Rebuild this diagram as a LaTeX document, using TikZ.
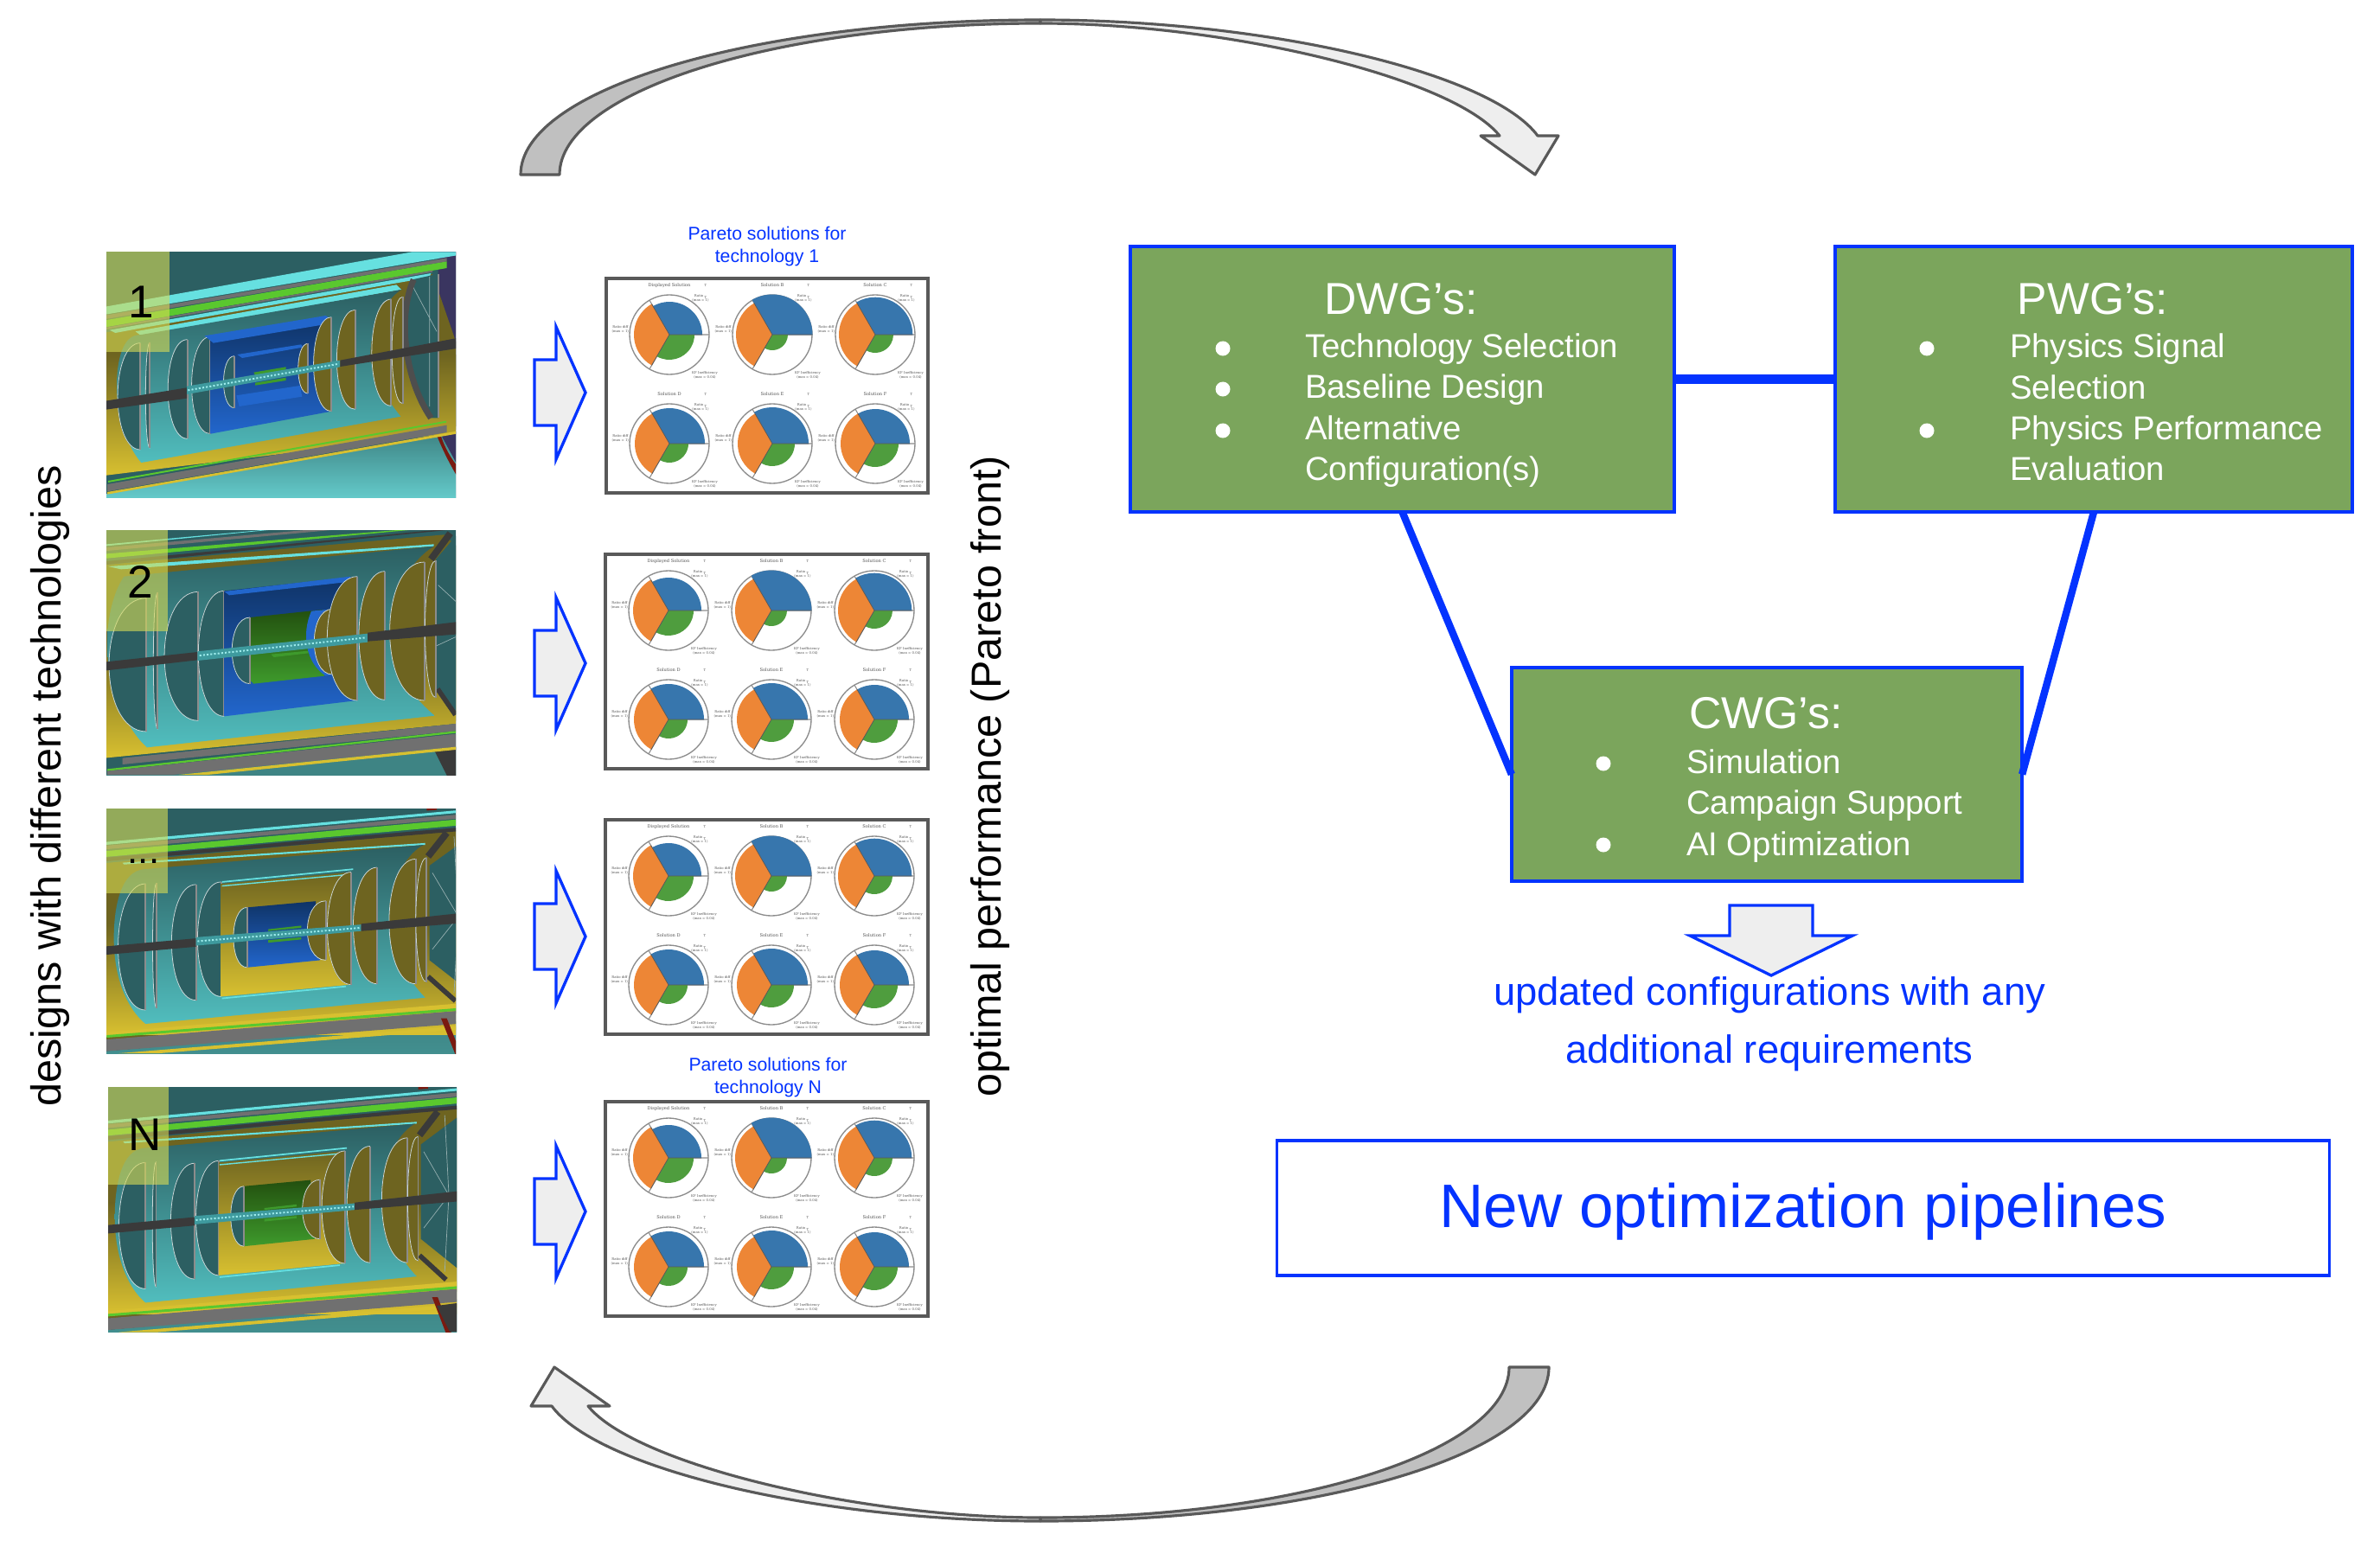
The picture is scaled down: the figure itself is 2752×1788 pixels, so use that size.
\documentclass[tikz,border=0pt]{standalone}
\usepackage{fontspec}
\setmainfont{Liberation Sans}
\newfontfamily\tinyserif{DejaVu Serif}
\usetikzlibrary{calc}
\definecolor{bluex}{HTML}{0433FF}
\definecolor{greenbox}{HTML}{7BA55C}
\definecolor{darkline}{HTML}{595959}
\definecolor{lightfill}{HTML}{EEEEEE}
\definecolor{midfill}{HTML}{C0C0C0}
\definecolor{tealbg}{HTML}{2C5F62}
\definecolor{teallite}{HTML}{55C8C8}
\definecolor{tealmid}{HTML}{3E8484}
\definecolor{olive}{HTML}{6E6420}
\definecolor{yelbr}{HTML}{D8C030}
\definecolor{grayx}{HTML}{707070}
\definecolor{greenx}{HTML}{5AC82E}
\definecolor{cyanx}{HTML}{66E0E0}
\definecolor{navyb}{HTML}{0F3366}
\definecolor{blueb}{HTML}{2266CC}
\definecolor{darkg}{HTML}{23500F}
\definecolor{litg}{HTML}{3E9A2C}
\definecolor{pipe}{HTML}{3A3A3A}
\definecolor{pipec}{HTML}{3E9A9E}
\definecolor{navyr}{HTML}{3A3560}
\definecolor{redx}{HTML}{7A1A10}
\definecolor{cblue}{HTML}{3776AD}
\definecolor{corange}{HTML}{ED8636}
\definecolor{cgreen}{HTML}{4F9D3E}
\definecolor{overl}{HTML}{D8DC55}
\tikzset{
  gbox/.style={draw=bluex,fill=greenbox,line width=1pt,inner sep=0pt,outer sep=0pt},
  wbox/.style={draw=bluex,fill=white,line width=1pt,inner sep=0pt,outer sep=0pt},
  link/.style={bluex,line width=2.4pt},
  linkh/.style={bluex,line width=2.85pt},
  blockar/.style={draw=bluex,fill=lightfill,line width=.95pt,line join=miter},
  curvedk/.style={draw=darkline,fill=midfill,line width=.9pt,line join=round},
  curvelt/.style={draw=darkline,fill=lightfill,line width=.9pt,line join=round},
  whitetxt/.style={text=white,inner sep=0pt,outer sep=0pt,align=left},
  whitehead/.style={text=white,inner sep=0pt,outer sep=0pt,font=\fontsize{14.7}{17}\selectfont},
  bluetxt/.style={text=bluex,inner sep=0pt,outer sep=0pt,align=center},
  blacktxt/.style={text=black,inner sep=0pt,outer sep=0pt},
  num/.style={text=black,inner sep=0pt,outer sep=0pt,font=\fontsize{15.1}{17}\selectfont,anchor=base},
  dot/.style={fill=white},
  frm/.style={draw=darkline,fill=white,line width=.9pt},
  mini/.style={text=black!68,inner sep=0pt,outer sep=0pt,align=center,font=\tinyserif\fontsize{1.1}{1.35}\selectfont},
  minit/.style={text=black!68,inner sep=0pt,outer sep=0pt,font=\tinyserif\fontsize{1.45}{1.8}\selectfont},
  discline/.style={draw=white!75!tealbg,line width=.22pt},
  discedge/.style={draw=white!55!black,line width=.5pt},
}
% a very small stacked fraction for the chart labels
\newcommand\minifrac{\raisebox{-.4pt}{\fontsize{1.1}{.85}\selectfont\shortstack{T\\T}}}
% half disc: x, top, bottom, bulge, fill
\newcommand\discD[5]{%
  \fill[#5] (#1,#2) .. controls (#1-#4,#2) and (#1-#4,#3) .. (#1,#3) -- cycle;
  \draw[discline] (#1,#2) .. controls (#1-#4,#2) and (#1-#4,#3) .. (#1,#3);
  \draw[discedge] (#1,#2) -- (#1,#3);
}
% polar chart: prefix, x, y, title, r blue, r orange, r green
\newcommand\polarC[7]{%
  \begin{scope}[shift={(#2,#3)},x=0.01cm,y=0.01cm]
    \draw[black!45,line width=.38pt] (0,0) circle[radius=46*0.01cm];
    \draw[black!45,line width=.3pt] (0,0) -- (46,0) (0,0) -- (120:46*0.01cm) (0,0) -- (240:46*0.01cm);
    \fill[cblue] (0,0) -- (#5*0.01cm,0) arc[start angle=0,end angle=120,radius=#5*0.01cm] -- cycle;
    \fill[corange] (0,0) -- (120:#6*0.01cm) arc[start angle=120,end angle=240,radius=#6*0.01cm] -- cycle;
    \fill[cgreen] (0,0) -- (240:#7*0.01cm) arc[start angle=240,end angle=360,radius=#7*0.01cm] -- cycle;
    \draw[black!65,line width=.22pt] (120:#6*0.01cm) -- (0,0) -- (240:#6*0.01cm) (0,0) -- (#5*0.01cm,0);
    \node[minit] (#1t) at (0,57) {#4};
    \node[mini] (#1a) at (36,48) {Ratio \minifrac\\(max = 1)};
    \node[mini,anchor=east] (#1b) at (-47,6) {Ratio diff\\(max = 1)};
    \node[mini] (#1c) at (41,-47) {KF Inefficiency\\(max = 0.04)};
  \end{scope}
}
% Pareto frame: prefix, left, top, right, bottom
\newcommand\paretoF[5]{%
  \draw[frm] (#2,#3) rectangle (#4,#5);
  \polarC{#1A}{#2+73}{#3+65}{Displayed Solution}{38}{41}{29}
  \polarC{#1B}{#2+192}{#3+65}{Solution B}{46.5}{42}{18}
  \polarC{#1C}{#2+311}{#3+65}{Solution C}{43.3}{42}{21}
  \polarC{#1D}{#2+73}{#3+191}{Solution D}{41}{40}{22}
  \polarC{#1E}{#2+192}{#3+191}{Solution E}{42}{40}{26}
  \polarC{#1F}{#2+311}{#3+191}{Solution F}{40}{40}{27}
}
\newcommand\rightblock[1]{%
  \draw[blockar] (618,#1-38) -- (643,#1-38) -- (643,#1-76) -- (677,#1) -- (643,#1+77) -- (643,#1+38) -- (618,#1+38) -- cycle;
}
\newcommand\teethA[4]{\draw[cyanx!65!white,line width=.55pt,dash pattern=on .6pt off .6pt] (#1,#2) -- (#3,#4);}
% Panels 3 and 4 share this geometry, differing in the innermost colours
\newcommand\detB[2]{%
  \fill[tealbg] (40,60) rectangle (1400,780);
  \shade[top color=tealmid,bottom color=tealmid!80!teallite] (40,752) -- (1400,660) -- (1400,780) -- (40,780) -- cycle;
  \fill[olive] (40,235) -- (1400,135) -- (1400,640) -- (40,720) -- cycle;
  \shade[top color=olive,middle color=olive,bottom color=yelbr] (40,400) rectangle (1400,705);
  \fill[cyanx] (40,177) -- (1400,80) -- (1400,87) -- (40,185) -- cycle;
  \fill[grayx] (40,187) -- (1400,92) -- (1400,103) -- (40,197) -- cycle;
  \fill[greenx] (40,202) -- (1400,105) -- (1400,122) -- (40,218) -- cycle;
  \fill[pipe] (40,220) -- (1400,128) -- (1400,138) -- (40,230) -- cycle;
  \fill[cyanx] (125,232) -- (1175,178) -- (1175,183) -- (130,237) -- cycle;
  \shade[top color=tealbg,middle color=tealbg,bottom color=teallite!90!tealbg]
    (200,250) .. controls (120,255) and (95,350) .. (95,440) .. controls (95,560) and (150,640) .. (205,675)
    -- (1175,603) .. controls (1120,560) and (1050,470) .. (1050,370) .. controls (1050,280) and (1120,200) .. (1170,183) -- cycle;
  \fill[yelbr] (40,700) -- (1400,612) -- (1400,625) -- (40,712) -- cycle;
  \fill[grayx] (40,720) -- (1400,632) -- (1400,668) -- (40,752) -- cycle;
  \fill[greenx] (70,706) -- (1400,625) -- (1400,632) -- (70,713) -- cycle;
  \fill[yelbr] (110,756) -- (1400,674) -- (1400,684) -- (250,756) -- cycle;
  \fill[redx] (1230,660) -- (1250,660) -- (1300,760) -- (1280,760) -- cycle;
  \fill[redx] (1180,82) -- (1215,82) -- (1215,87) -- (1180,89) -- cycle;
  \fill[tealbg] (1190,240) -- (1400,120) -- (1400,630) -- (1190,500) -- cycle;
  \draw[white!50!tealbg,line width=.2pt] (1290,380) -- (1200,260) (1290,380) -- (1275,160) (1290,380) -- (1200,470) (1290,380) -- (1275,590);
  \draw[pipe,line width=2.2pt] (1185,215) -- (1250,150);
  \draw[pipe,line width=1.6pt] (1185,545) -- (1280,612);
  \discD{205}{290}{637}{127}{tealbg}
  \discD{243}{288}{632}{18}{tealbg}
  \discD{380}{292}{610}{113}{tealbg}
  \discD{467}{285}{600}{109}{tealbg}
  \shade[top color=olive,middle color=olive,bottom color=yelbr] (467,290) -- (918,258) -- (918,567) -- (467,600) -- cycle;
  \draw[cyanx,line width=.5pt] (470,285) -- (925,250);
  \draw[cyanx,line width=.4pt] (470,296) -- (905,265);
  \draw[cyanx,line width=.5pt] (470,605) -- (900,572);
  \shade[top color=#1,middle color=#1,bottom color=#2] (557,355) -- (795,338) -- (810,500) -- (557,520) -- cycle;
  \discD{557}{355}{520}{63}{tealbg}
  \fill[litg] (630,415) -- (745,405) -- (745,411) -- (630,420) -- cycle;
  \fill[litg] (630,445) -- (745,437) -- (745,443) -- (630,452) -- cycle;
  \discD{830}{337}{500}{85}{olive}
  \discD{918}{258}{567}{110}{olive}
  \discD{1008}{245}{565}{110}{olive}
  \discD{1142}{222}{565}{123}{olive}
  \discD{1180}{218}{560}{50}{olive}
  \fill[pipe] (40,464) -- (380,440) -- (380,463) -- (40,487) -- cycle;
  \fill[pipec] (380,437) -- (953,402) -- (953,420) -- (380,460) -- cycle;
  \teethA{385}{448}{950}{411}
  \fill[pipe] (953,400) -- (1400,362) -- (1400,392) -- (953,420) -- cycle;
}
\begin{document}
\begin{tikzpicture}[x=0.01cm,y=-0.01cm]
\useasboundingbox (0,0) rectangle (2752,1788);
\fill[white] (0,0) rectangle (2752,1788);

% ---- curved arrows
\draw[curvedk] (602,202) .. controls (602,103) and (872,23) .. (1203,23)
  -- (1203,27) .. controls (897,27) and (647,106) .. (647,202) -- cycle;
\draw[curvelt] (1203,23) .. controls (1470,23) and (1725,85) .. (1778,157)
  -- (1802,157) -- (1775,202) -- (1712,157) -- (1734,157)
  .. controls (1680,90) and (1420,27) .. (1203,27) -- cycle;
\draw[curvedk] (1791,1581) .. controls (1791,1680) and (1530,1759) .. (1203,1759)
  -- (1203,1755) .. controls (1505,1755) and (1745,1677) .. (1745,1581) -- cycle;
\draw[curvelt] (1203,1759) .. controls (941,1759) and (690,1697) .. (638,1626)
  -- (614,1626) -- (641,1581) -- (705,1626) -- (680,1626)
  .. controls (733,1692) and (989,1755) .. (1203,1755) -- cycle;

% ---- side labels
\node[blacktxt,rotate=90,font=\fontsize{13.8}{16}\selectfont] (lblL) at (58,909) {designs with different technologies};
\node[blacktxt,rotate=90,font=\fontsize{13.8}{16}\selectfont] (lblR) at (1145,898) {optimal performance (Pareto front)};

% ---- panel 1
\begin{scope}
\clip (123,291) rectangle (527,575);
\begin{scope}[shift={(100,270)},x=0.01cm/3,y=-0.01cm/3]
  \fill[tealbg] (60,50) rectangle (1290,930);
  \shade[top color=tealmid,bottom color=teallite!90!white] (60,905) -- (1290,690) -- (1290,930) -- (60,930) -- cycle;
  \fill[navyr] (1220,64) -- (1290,64) -- (1290,680) -- (1220,590) -- cycle;
  \fill[navyr] (1228,695) -- (1290,685) -- (1290,810) -- cycle;
  \fill[redx] (1215,700) -- (1228,697) .. controls (1240,740) and (1270,790) .. (1290,810) -- (1290,850) .. controls (1260,800) and (1235,750) .. (1215,700) -- cycle;
  \fill[olive] (60,345) -- (1200,140) -- (1290,400) -- (1290,680) -- (60,840) -- cycle;
  \shade[top color=olive,middle color=olive,bottom color=yelbr] (60,420) -- (1290,420) -- (1290,690) -- (60,840) -- cycle;
  \fill[cyanx] (60,255) -- (1130,64) -- (1290,64) -- (1290,75) -- (60,282) -- cycle;
  \fill[grayx] (60,285) -- (1250,85) -- (1250,97) -- (60,298) -- cycle;
  \fill[greenx] (60,302) -- (1250,97) -- (1250,120) -- (60,326) -- cycle;
  \fill[grayx] (60,328) -- (1200,128) -- (1200,134) -- (60,334) -- cycle;
  \fill[cyanx] (80,335) -- (1195,138) -- (1190,152) -- (180,330) -- (100,345) -- cycle;
  \fill[cyanx] (170,340) -- (1075,178) -- (1092,195) -- (190,355) -- cycle;
  \shade[top color=tealbg,middle color=tealbg,bottom color=teallite!90!tealbg]
    (185,352) .. controls (130,350) and (105,430) .. (105,530) .. controls (105,650) and (150,750) .. (190,795)
    -- (1090,635) .. controls (1030,560) and (985,480) .. (985,420) .. controls (985,310) and (1050,220) .. (1092,195) -- cycle;
  \fill[tealbg] (1130,160) -- (1220,140) -- (1220,640) -- (1190,640) .. controls (1100,500) and (1085,280) .. (1130,160) -- cycle;
  \draw[white!50!tealbg,line width=.2pt] (1130,180) -- (1215,340) (1190,150) -- (1190,600);
  \draw[grayx!70!black,line width=2pt] (1135,160) .. controls (1080,280) and (1100,500) .. (1195,640);
  \draw[discedge] (1220,140) -- (1220,640);
  \fill[grayx] (72,870) -- (1250,665) -- (1250,690) -- (72,895) -- cycle;
  \fill[greenx] (75,858) -- (1248,650) -- (1248,656) -- (75,864) -- cycle;
  \fill[yelbr] (72,897) -- (1290,685) -- (1290,694) -- (72,905) -- cycle;
  \discD{187}{380}{750}{105}{tealbg}
  \discD{220}{378}{745}{20}{tealbg}
  \discD{350}{368}{712}{90}{tealbg}
  \discD{430}{358}{695}{87}{tealbg}
  \shade[top color=navyb,middle color=navyb,bottom color=blueb] (430,358) -- (850,290) -- (850,617) -- (430,695) -- cycle;
  \fill[blueb] (410,355) -- (830,285) -- (848,297) -- (830,315) -- (440,380) -- cycle;
  \fill[blueb] (523,420) -- (745,385) -- (750,395) -- (540,432) -- cycle;
  \fill[blueb] (520,562) -- (740,528) -- (748,566) -- (530,600) -- cycle;
  \discD{513}{425}{605}{50}{tealbg}
  \discD{768}{382}{555}{45}{olive}
  \fill[litg] (580,482) -- (692,463) -- (692,472) -- (585,492) -- cycle;
  \fill[litg] (585,518) -- (692,500) -- (692,510) -- (585,527) -- cycle;
  \discD{850}{290}{617}{83}{olive}
  \discD{932}{265}{610}{85}{olive}
  \discD{1057}{228}{598}{90}{olive}
  \discD{1097}{220}{590}{50}{olive}
  \fill[pipe] (60,582) -- (348,535) -- (348,572) -- (60,612) -- cycle;
  \fill[pipec] (348,530) -- (880,440) -- (880,463) -- (348,558) -- cycle;
  \teethA{352}{544}{876}{452}
  \fill[pipe] (880,440) -- (1290,362) -- (1290,398) -- (880,462) -- cycle;
\end{scope}
\end{scope}
\fill[overl,opacity=.6] (123,291) rectangle (196,407);
\node[num] (n1) at (163,367) {1};

% ---- panel 2
\begin{scope}
\clip (123,613) rectangle (527,896);
\begin{scope}[shift={(100,600)},x=0.01cm/3,y=-0.01cm/3]
  \fill[tealbg] (60,30) rectangle (1290,900);
  \shade[top color=tealmid,bottom color=tealmid] (60,888) -- (1290,790) -- (1290,900) -- (60,900) -- cycle;
  \fill[pipe] (1205,800) -- (1290,790) -- (1290,900) -- (1255,900) -- cycle;
  \fill[olive] (60,160) -- (1240,55) -- (1290,100) -- (1290,700) -- (60,830) -- cycle;
  \shade[top color=olive,middle color=olive,bottom color=yelbr] (60,420) -- (1290,420) -- (1290,710) -- (60,830) -- cycle;
  \fill[cyanx] (60,89) -- (620,38) -- (640,38) -- (60,95) -- cycle;
  \fill[grayx] (60,100) -- (770,38) -- (860,38) -- (60,112) -- cycle;
  \fill[greenx] (60,122) -- (1090,38) -- (1130,38) -- (60,138) -- cycle;
  \fill[pipe] (60,148) -- (1220,38) -- (1260,38) -- (60,160) -- cycle;
  \fill[cyanx] (75,165) -- (1205,88) -- (1205,95) -- (120,175) -- cycle;
  \shade[top color=tealbg,middle color=tealbg,bottom color=teallite!90!tealbg]
    (130,200) .. controls (90,260) and (72,350) .. (72,430) .. controls (72,590) and (140,730) .. (210,793)
    -- (1208,683) .. controls (1110,600) and (1050,500) .. (1050,390) .. controls (1050,260) and (1130,140) .. (1205,95) -- cycle;
  \fill[tealbg] (1212,140) -- (1290,50) -- (1290,690) -- (1212,590) -- cycle;
  \draw[white!50!tealbg,line width=.2pt] (1220,230) -- (1285,290) (1215,440) -- (1280,410);
  \draw[pipe,line width=2.2pt] (1195,140) -- (1262,50) ;
  \draw[pipe,line width=1.6pt] (1218,590) -- (1280,680);
  \fill[grayx] (125,830) -- (1290,710) -- (1290,735) -- (125,852) -- cycle;
  \fill[greenx] (72,868) -- (1290,735) -- (1290,742) -- (72,875) -- cycle;
  \fill[grayx] (72,875) -- (1290,745) -- (1290,790) -- (300,888) -- (72,888) -- cycle;
  \fill[yelbr] (320,888) -- (1290,790) -- (1290,800) -- (420,888) -- cycle;
  \discD{208}{275}{738}{173}{tealbg}
  \discD{247}{255}{730}{20}{tealbg}
  \discD{388}{253}{700}{157}{tealbg}
  \discD{478}{250}{685}{120}{tealbg}
  \shade[top color=navyb,middle color=navyb,bottom color=blueb] (478,250) -- (940,200) -- (940,630) -- (478,685) -- cycle;
  \fill[blueb] (478,252) -- (915,200) -- (915,218) -- (495,265) -- cycle;
  \shade[top color=darkg,middle color=darkg,bottom color=litg] (567,342) -- (820,315) -- (825,545) -- (580,572) -- (567,560) -- cycle;
  \discD{567}{342}{572}{83}{tealbg}
  \fill[litg] (640,470) -- (770,458) -- (770,466) -- (650,480) -- cycle;
  \fill[blueb] (780,320) .. controls (745,400) and (760,500) .. (830,545) -- (853,540) -- (853,313) -- cycle;
  \discD{853}{313}{540}{84}{olive}
  \discD{940}{200}{630}{140}{olive}
  \discD{1035}{182}{628}{120}{olive}
  \discD{1172}{150}{630}{160}{olive}
  \discD{1212}{145}{620}{50}{olive}
  \fill[pipe] (60,497) -- (385,462) -- (385,490) -- (60,527) -- cycle;
  \fill[pipec] (385,460) -- (975,398) -- (975,428) -- (385,492) -- cycle;
  \teethA{392}{474}{970}{412}
  \fill[pipe] (975,395) -- (1290,357) -- (1290,400) -- (975,425) -- cycle;
\end{scope}
\end{scope}
\fill[overl,opacity=.6] (123,613) rectangle (194,730);
\node[num] (n2) at (162,691) {2};

% ---- panel 3
\begin{scope}
\clip (123,935) rectangle (527,1218);
\begin{scope}[shift={(100,900)},x=0.01cm/3,y=-0.01cm/2.376]
  \detB{navyb}{blueb}
\end{scope}
\end{scope}
\fill[overl,opacity=.6] (123,935) rectangle (194,1033);
\node[num,font=\fontsize{12.5}{14}\selectfont] (n3) at (166,998) {...};

% ---- panel 4
\begin{scope}
\clip (125,1257) rectangle (528,1540);
\begin{scope}[shift={(102,1222.4)},x=0.97*0.01cm/3,y=-0.01cm/2.376]
  \detB{darkg}{litg}
\end{scope}
\fill[pipe] (505,1510) -- (528,1507) -- (528,1540) -- (520,1540) -- cycle;
\end{scope}
\fill[overl,opacity=.6] (125,1257) rectangle (195,1370);
\node[num] (n4) at (168,1330) {N};

% ---- block arrows
\rightblock{454}
\rightblock{767}
\rightblock{1083}
\rightblock{1401}

% ---- Pareto frames
\node[bluetxt,font=\fontsize{6.04}{7.55}\selectfont] (par1) at (887,285) {Pareto solutions for\\technology 1};
\paretoF{a}{701}{322}{1073}{570}
\paretoF{b}{700}{641}{1073}{889}
\paretoF{c}{700}{948}{1073}{1196}
\node[bluetxt,font=\fontsize{6.04}{7.55}\selectfont] (par4) at (888,1246) {Pareto solutions for\\technology N};
\paretoF{d}{700}{1274}{1073}{1522}

% ---- green boxes
\node[gbox,minimum width=6.29cm,minimum height=3.07cm] (dwg) at (1621.5,438.5) {};
\node[gbox,minimum width=5.98cm,minimum height=3.07cm] (pwg) at (2421,438.5) {};
\node[gbox,minimum width=5.90cm,minimum height=2.47cm] (cwg) at (2043,895.5) {};
\draw[linkh] (dwg.east) -- (pwg.west);
\draw[link] (dwg.south) -- (cwg.west);
\draw[link] (pwg.south) -- (cwg.east);

\node[whitehead] (dwgt) at (1620,346) {DWG’s:};
\node[whitetxt,anchor=west,font=\fontsize{10.9}{13.46}\selectfont] (dwgl) at (1509,474.5) {Technology Selection\\Baseline Design\\Alternative\\Configuration(s)};
\foreach \yy in {403,450,498} \fill[dot] (1414,\yy) circle[radius=0.085cm];

\node[whitehead] (pwgt) at (2420,346) {PWG’s:};
\node[whitetxt,anchor=west,font=\fontsize{10.9}{13.46}\selectfont] (pwgl) at (2324,471) {Physics Signal\\Selection\\Physics Performance\\Evaluation};
\foreach \yy in {403,498} \fill[dot] (2228,\yy) circle[radius=0.085cm];

\node[whitehead] (cwgt) at (2042,825) {CWG’s:};
\node[whitetxt,anchor=west,font=\fontsize{10.9}{13.46}\selectfont] (cwgl) at (1950,932) {Simulation\\Campaign Support\\AI Optimization};
\foreach \yy in {883,977} \fill[dot] (1854,\yy) circle[radius=0.085cm];

% ---- down arrow + text
\draw[blockar] (2000,1047) -- (2096,1047) -- (2096,1082) -- (2142,1082) -- (2048,1128) -- (1954,1082) -- (2000,1082) -- cycle;
\node[bluetxt,font=\fontsize{12.9}{19}\selectfont] (upd) at (2046,1184) {updated configurations with any\\additional requirements};

% ---- new pipelines
\node[wbox,minimum width=12.16cm,minimum height=1.56cm] (newp) at (2085,1397) {};
\node[text=bluex,inner sep=0pt,outer sep=0pt,font=\fontsize{20.2}{24}\selectfont] (newpt) at (2085,1401) {New optimization pipelines};
\end{tikzpicture}
\end{document}
